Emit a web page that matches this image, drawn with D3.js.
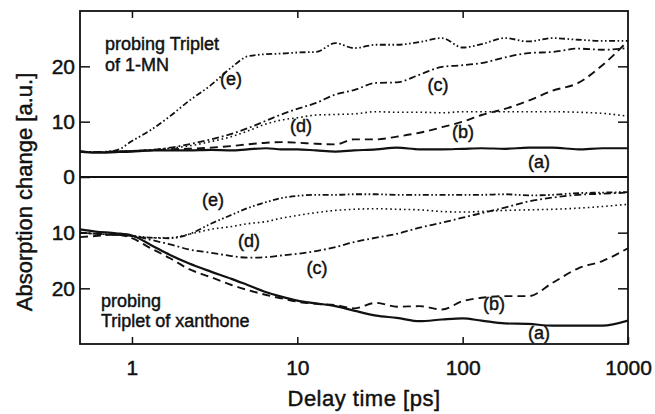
<!DOCTYPE html>
<html>
<head>
<meta charset="utf-8">
<script src="https://cdn.jsdelivr.net/npm/d3@7"></script>
<style>
  html, body { margin: 0; padding: 0; background: #fff; }
  svg { display: block; font-family: "Liberation Sans", Arial, Helvetica, sans-serif; }
  svg text { stroke: #111; stroke-width: 0.45px; }
</style>
</head>
<body>
<svg id="chart" width="655" height="414"></svg>
<script>
// ---- data ----
const delayTimes = [0.485, 0.6, 0.8, 1, 1.3, 1.7, 2.2, 3, 4, 5, 6.5, 8, 10, 13, 17, 22, 30, 40, 55, 75, 100, 130, 180, 250, 350, 500, 700, 1000];

// Top panel: probing Triplet of 1-MN
const top_a = [4.6, 4.4, 4.5, 4.6, 4.8, 4.8, 4.8, 4.9, 4.8, 5.0, 5.2, 5.0, 5.0, 4.8, 4.6, 4.8, 5.0, 5.3, 5.0, 5.0, 5.1, 5.2, 5.1, 5.3, 5.3, 5.0, 5.2, 5.2];
const top_b = [4.6, 4.5, 4.6, 4.7, 4.8, 5.0, 5.1, 5.3, 5.6, 5.9, 6.2, 6.3, 6.2, 6.0, 5.9, 6.8, 6.8, 7.3, 8.0, 9.0, 10.0, 11.2, 12.3, 13.8, 15.6, 17.0, 20.2, 24.6];
const top_c = [4.6, 4.5, 4.6, 4.7, 4.9, 5.3, 5.9, 6.8, 7.8, 8.8, 10.2, 11.3, 12.3, 13.4, 14.9, 15.7, 17.0, 17.1, 18.5, 19.9, 20.2, 20.6, 21.6, 22.4, 22.6, 23.2, 23.0, 23.3];
const top_d = [4.6, 4.5, 4.6, 4.7, 4.9, 5.2, 5.6, 6.4, 7.3, 8.3, 9.6, 10.3, 10.7, 11.2, 11.3, 11.4, 11.8, 11.7, 11.7, 11.6, 11.8, 11.8, 11.8, 11.8, 11.8, 11.7, 11.5, 11.0];
const top_e = [4.6, 4.5, 4.8, 6.5, 8.5, 11.0, 13.7, 16.6, 19.8, 21.8, 22.2, 22.3, 22.5, 22.6, 24.2, 23.3, 23.9, 23.9, 24.4, 25.1, 23.4, 24.0, 25.1, 24.5, 25.1, 24.8, 24.6, 24.6];

// Bottom panel: probing Triplet of xanthone (axis pointing downward)
const bot_a = [9.4, 9.8, 10.1, 10.5, 12.2, 14.0, 15.5, 17.0, 18.3, 19.4, 20.7, 21.5, 22.2, 22.7, 23.2, 24.0, 24.9, 25.3, 25.9, 25.6, 25.4, 25.8, 26.3, 26.4, 26.7, 26.7, 26.7, 25.8];
const bot_b = [10.8, 10.6, 10.3, 11.0, 12.8, 14.6, 16.5, 18.0, 19.4, 20.3, 21.2, 21.8, 22.4, 22.8, 23.0, 23.6, 22.6, 23.3, 23.2, 23.8, 22.3, 21.7, 21.4, 21.4, 19.0, 16.4, 15.1, 12.8];
const bot_c = [10.0, 10.2, 10.4, 10.6, 11.3, 12.1, 13.0, 13.6, 14.2, 14.5, 14.4, 14.1, 13.8, 13.3, 12.6, 11.7, 10.9, 10.2, 9.1, 8.2, 7.3, 6.5, 5.5, 4.4, 3.7, 3.2, 3.0, 2.8];
const bot_d = [10.0, 10.2, 10.4, 10.6, 10.9, 10.9, 10.3, 9.4, 8.9, 8.4, 8.0, 7.4, 6.9, 6.4, 6.0, 5.8, 5.7, 5.8, 5.9, 6.2, 6.3, 6.2, 6.0, 5.9, 5.8, 5.6, 5.3, 4.9];
const bot_e = [10.0, 10.2, 10.4, 10.6, 10.9, 11.0, 10.3, 8.4, 6.8, 5.6, 4.5, 3.8, 3.4, 3.2, 3.2, 3.1, 3.1, 3.2, 3.2, 3.2, 3.2, 3.2, 3.1, 3.3, 3.2, 2.9, 2.8, 2.7];

const seriesNames = ["(a)", "(b)", "(c)", "(d)", "(e)"];
const xTickValues = [1, 10, 100, 1000];
const xTickLabels = ["1", "10", "100", "1000"];
const topYTicks = [0, 10, 20];
const botYTicks = [10, 20];
const xTitle = "Delay time [ps]";
const yTitle = "Absorption change [a.u.]";
const topNote = ["probing Triplet", "of 1-MN"];
const botNote = ["probing", "Triplet of xanthone"];

// ---- layout ----
const L = 80, R = 628, T = 11, M = 177, B = 344;
const svg = d3.select("#chart");

const x = d3.scaleLog().domain([0.485, 1000]).range([L, R]);
const yTop = d3.scaleLinear().domain([0, 30]).range([M, T]);
const yBot = d3.scaleLinear().domain([0, 30]).range([M, B]);

const dashes = {
  "(a)": null,
  "(b)": "8,5",
  "(c)": "7,3,1.8,3",
  "(d)": "1.6,3",
  "(e)": "6,2.5,1.6,2.5,1.6,2.5"
};
const widths = { "(a)": 2.2, "(b)": 1.9, "(c)": 1.8, "(d)": 1.6, "(e)": 1.8 };

function drawPanel(yScale, arrays, clipId, y0, y1) {
  svg.append("clipPath").attr("id", clipId)
    .append("rect").attr("x", L).attr("y", y0).attr("width", R - L).attr("height", y1 - y0);
  const g = svg.append("g").attr("clip-path", `url(#${clipId})`);
  const line = d3.line()
    .x((d, i) => x(delayTimes[i]))
    .y(d => yScale(d))
    .curve(d3.curveMonotoneX);
  arrays.forEach((vals, k) => {
    const name = seriesNames[k];
    g.append("path")
      .datum(vals)
      .attr("d", line)
      .attr("fill", "none")
      .attr("stroke", "#111")
      .attr("stroke-width", widths[name])
      .attr("stroke-dasharray", dashes[name])
      .attr("stroke-linejoin", "round");
  });
}

drawPanel(yTop, [top_a, top_b, top_c, top_d, top_e], "clipTop", T, M);
drawPanel(yBot, [bot_a, bot_b, bot_c, bot_d, bot_e], "clipBot", M, B);

// ---- axes ----
const axisFont = 21;
function styleAxis(g) {
  g.select(".domain").remove();
  g.selectAll("line").attr("stroke", "#111").attr("stroke-width", 1.5);
  g.selectAll("text").attr("fill", "#111").style("font-size", axisFont + "px")
    .style("font-family", '"Liberation Sans", Arial, sans-serif');
}

// left axes (inward ticks, labels outside)
svg.append("g").attr("transform", `translate(${L},0)`)
  .call(d3.axisLeft(yTop).tickValues(topYTicks).tickSizeInner(-10).tickSizeOuter(0).tickPadding(5).tickFormat(d3.format("d")))
  .call(styleAxis);
svg.append("g").attr("transform", `translate(${L},0)`)
  .call(d3.axisLeft(yBot).tickValues(botYTicks).tickSizeInner(-10).tickSizeOuter(0).tickPadding(5).tickFormat(d3.format("d")))
  .call(styleAxis);
// right axes (inward ticks, no labels)
svg.append("g").attr("transform", `translate(${R},0)`)
  .call(d3.axisRight(yTop).tickValues(topYTicks.filter(v => v > 0)).tickSizeInner(-10).tickSizeOuter(0).tickFormat(""))
  .call(styleAxis);
svg.append("g").attr("transform", `translate(${R},0)`)
  .call(d3.axisRight(yBot).tickValues(botYTicks).tickSizeInner(-10).tickSizeOuter(0).tickFormat(""))
  .call(styleAxis);
// top x axis (inward ticks)
svg.append("g").attr("transform", `translate(0,${T})`)
  .call(d3.axisTop(x).tickValues(xTickValues.slice(0, 3)).tickSizeInner(-7).tickSizeOuter(0).tickFormat(""))
  .call(styleAxis);
// bottom x axis
svg.append("g").attr("transform", `translate(0,${B})`)
  .call(d3.axisBottom(x).tickValues(xTickValues).tickSizeInner(-7).tickSizeOuter(0).tickPadding(16)
    .tickFormat((d, i) => xTickLabels[i]))
  .call(styleAxis);

// frame + middle zero line
svg.append("rect").attr("x", L).attr("y", T).attr("width", R - L).attr("height", B - T)
  .attr("fill", "none").attr("stroke", "#111").attr("stroke-width", 1.8);
svg.append("line").attr("x1", L).attr("x2", R).attr("y1", M).attr("y2", M)
  .attr("stroke", "#111").attr("stroke-width", 1.8);

// ---- titles ----
svg.append("text").attr("x", 364).attr("y", 406).attr("text-anchor", "middle")
  .style("font-size", "22px").style("letter-spacing", "0.5px").attr("fill", "#111").text(xTitle);
svg.append("text").attr("transform", "translate(32,192) rotate(-90)").attr("text-anchor", "middle")
  .style("font-size", "22px").attr("fill", "#111").text(yTitle);

// ---- notes ----
const noteFont = "18px";
topNote.forEach((s, i) => {
  svg.append("text").attr("x", 105).attr("y", 50 + i * 21).style("font-size", noteFont).attr("fill", "#111").text(s);
});
botNote.forEach((s, i) => {
  svg.append("text").attr("x", 101).attr("y", 307 + i * 20).style("font-size", noteFont).attr("fill", "#111").text(s);
});

// ---- curve labels ----
const topLabelPos = { "(a)": [539, 162], "(b)": [463, 132], "(c)": [438, 85], "(d)": [301, 126], "(e)": [231, 79] };
const botLabelPos = { "(a)": [539, 333], "(b)": [494, 304], "(c)": [317, 268], "(d)": [249, 241], "(e)": [213, 200] };
[topLabelPos, botLabelPos].forEach(pos => {
  seriesNames.forEach(n => {
    svg.append("text").attr("x", pos[n][0]).attr("y", pos[n][1]).attr("dy", "0.35em")
      .attr("text-anchor", "middle").style("font-size", "18px").attr("fill", "#111").text(n);
  });
});
</script>
</body>
</html>
